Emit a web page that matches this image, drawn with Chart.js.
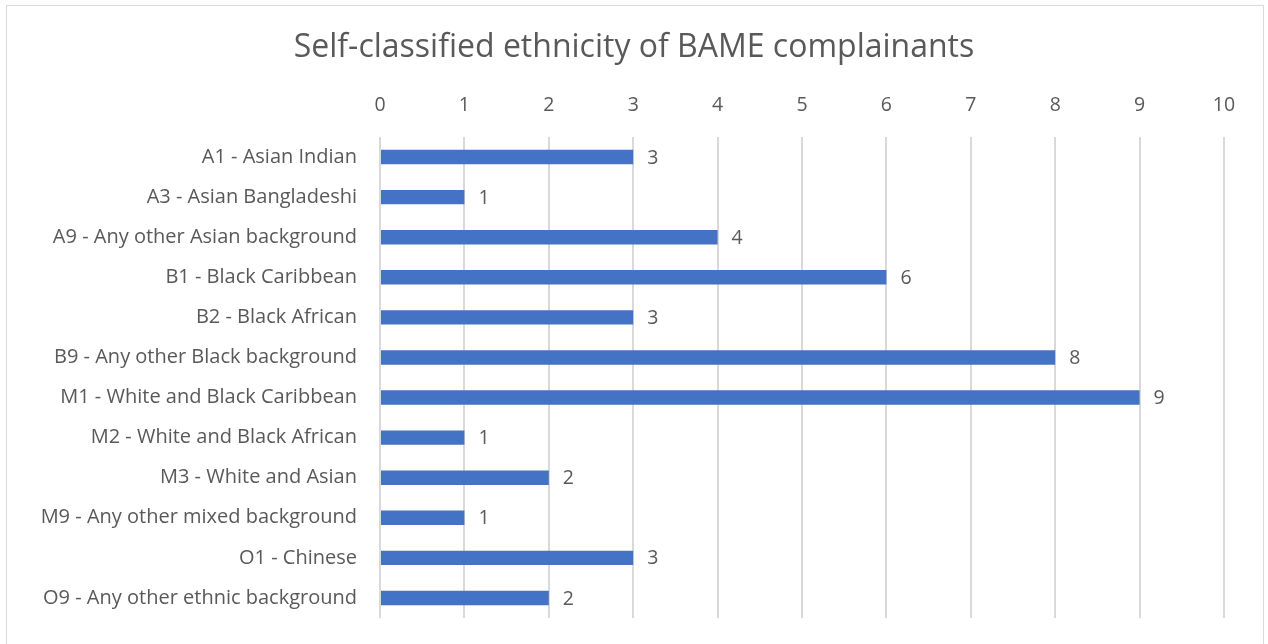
<!DOCTYPE html>
<html><head><meta charset="utf-8">
<script src="https://cdn.jsdelivr.net/npm/chart.js@4/dist/chart.umd.min.js"></script>
<style>
html,body{margin:0;padding:0;background:#fff;}
#wrap{position:absolute;left:0;top:0;width:1268px;height:644px;}
#frame{position:absolute;left:6px;top:5px;width:1258px;height:645px;border:1px solid #d9d9d9;box-sizing:border-box;pointer-events:none;}
canvas{position:absolute;left:0;top:0;}
</style></head>
<body>
<div id="wrap"><canvas id="c" width="1268" height="644"></canvas><div id="frame"></div></div>
<script>
const titleText = 'Self-classified ethnicity of BAME complainants';
const categories = [
  'A1 - Asian Indian',
  'A3 - Asian Bangladeshi',
  'A9 - Any other Asian background',
  'B1 - Black Caribbean',
  'B2 - Black African',
  'B9 - Any other Black background',
  'M1 - White and Black Caribbean',
  'M2 - White and Black African',
  'M3 - White and Asian',
  'M9 - Any other mixed background',
  'O1 - Chinese',
  'O9 - Any other ethnic background'
];
const counts = [3, 1, 4, 6, 3, 8, 9, 1, 2, 1, 3, 2];
const axisMin = 0, axisMax = 10, axisStep = 1;

const FONT = '"Open Sans", Lato, sans-serif';
const TXT = '#595959';

const valueLabels = {
  id: 'valueLabels',
  afterDatasetsDraw(chart) {
    const ctx = chart.ctx;
    const meta = chart.getDatasetMeta(0);
    ctx.save();
    ctx.font = '19.5px ' + FONT;
    ctx.fillStyle = TXT;
    ctx.textAlign = 'left';
    ctx.textBaseline = 'middle';
    meta.data.forEach((bar, i) => {
      ctx.fillText(String(chart.data.datasets[0].data[i]), bar.x + 14, bar.y + 1);
    });
    ctx.restore();
  }
};

new Chart(document.getElementById('c'), {
  type: 'bar',
  data: {
    labels: categories,
    datasets: [{
      data: counts,
      backgroundColor: '#4472C4',
      borderWidth: 0,
      barPercentage: 0.36,
      categoryPercentage: 1.0
    }]
  },
  options: {
    indexAxis: 'y',
    responsive: false,
    animation: false,
    layout: { padding: { left: 0, right: 0, top: 0, bottom: 26 } },
    plugins: {
      legend: { display: false },
      tooltip: { enabled: false },
      title: {
        display: true,
        text: titleText,
        color: TXT,
        font: { family: FONT, size: 32, weight: 'normal' },
        padding: { top: 29, bottom: 0 }
      }
    },
    scales: {
      x: {
        position: 'top',
        min: axisMin, max: axisMax,
        ticks: { stepSize: axisStep, color: TXT, font: { family: FONT, size: 19.5 }, padding: 20 },
        grid: { color: '#d9d9d9', lineWidth: 2, drawTicks: false },
        border: { display: false },
        afterFit(scale) {
          scale.paddingRight = 44;
          scale.height = 137 - (29 + 32 * 1.2);
        }
      },
      y: {
        ticks: { color: TXT, font: { family: FONT, size: 20 }, padding: 23, autoSkip: false },
        grid: { display: false, drawTicks: false },
        border: { display: false },
        afterFit(scale) {
          scale.width = 380;
          scale.paddingTop = 0;
          scale.paddingBottom = 0;
        }
      }
    }
  },
  plugins: [valueLabels]
});
</script>
</body></html>
